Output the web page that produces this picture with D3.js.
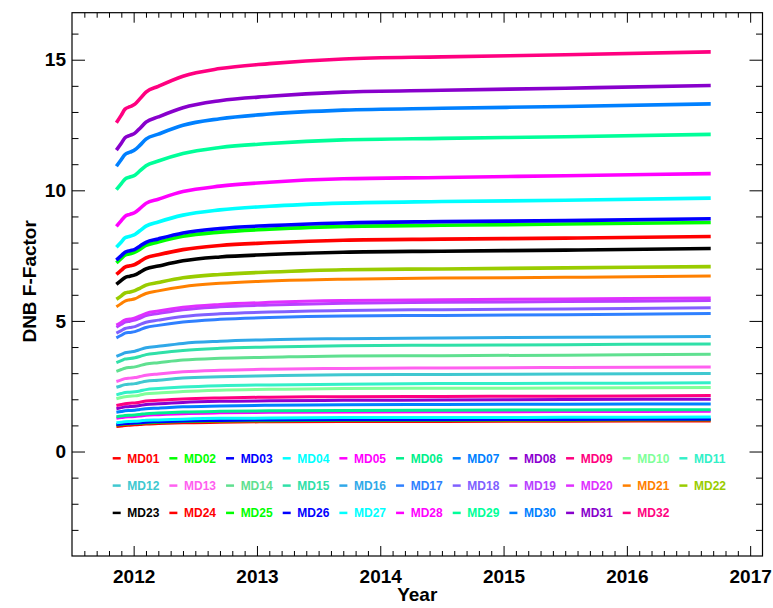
<!DOCTYPE html>
<html>
<head>
<meta charset="utf-8">
<script src="https://cdn.jsdelivr.net/npm/d3@7"></script>
<style>
  html, body { margin: 0; padding: 0; background: #fff; }
  svg { display: block; font-family: "Liberation Sans", Arial, Helvetica, sans-serif; }
  .tick text { font-weight: bold; font-size: 19px; fill: #000; }
  .tick line { stroke: #000; stroke-width: 1; }
</style>
</head>
<body>
<svg id="chart" width="773" height="608"></svg>
<script>
// Sample dates (decimal year) shared by all detector aggregation modes
const years = [2011.86, 2011.90, 2011.93, 2011.97, 2012.01, 2012.05, 2012.10, 2012.20,
               2012.40, 2012.70, 2013.10, 2013.70, 2014.50, 2015.50, 2016.68];

const modes = ["MD01","MD02","MD03","MD04","MD05","MD06","MD07","MD08","MD09","MD10","MD11",
               "MD12","MD13","MD14","MD15","MD16","MD17","MD18","MD19","MD20","MD21","MD22",
               "MD23","MD24","MD25","MD26","MD27","MD28","MD29","MD30","MD31","MD32"];

const modeColors = ["#ff0000","#00ff00","#0000ff","#00ffff","#ff00ff","#00f08c","#0080ff","#8c00d0",
                    "#ff0080","#80ff99","#33f0c8","#40c8d0","#ff60f0","#60e090","#30e0a8","#30a8e8",
                    "#3080ff","#8060ff","#b840ff","#e030ff","#ff8000","#99cc00","#000000","#ff0000",
                    "#00ff00","#0000ff","#00ffff","#ff00ff","#00ff99","#0080ff","#8800cc","#ff0080"];

// F-factor per mode at the sample dates
const MD01 = [0.96, 0.98, 1.00, 1.01, 1.02, 1.03, 1.05, 1.07, 1.10, 1.12, 1.14, 1.15, 1.15, 1.16, 1.17];
const MD02 = [1.01, 1.03, 1.05, 1.06, 1.07, 1.08, 1.10, 1.12, 1.15, 1.17, 1.18, 1.20, 1.20, 1.21, 1.22];
const MD03 = [1.03, 1.05, 1.07, 1.08, 1.09, 1.10, 1.12, 1.14, 1.17, 1.19, 1.21, 1.22, 1.22, 1.23, 1.24];
const MD04 = [1.10, 1.12, 1.14, 1.15, 1.16, 1.17, 1.20, 1.21, 1.24, 1.27, 1.28, 1.30, 1.30, 1.31, 1.32];
const MD05 = [1.27, 1.30, 1.32, 1.33, 1.34, 1.36, 1.39, 1.41, 1.45, 1.48, 1.50, 1.51, 1.52, 1.53, 1.54];
const MD06 = [1.33, 1.36, 1.38, 1.39, 1.40, 1.42, 1.45, 1.47, 1.51, 1.54, 1.56, 1.57, 1.58, 1.59, 1.60];
const MD07 = [1.50, 1.53, 1.56, 1.57, 1.58, 1.61, 1.64, 1.66, 1.71, 1.74, 1.77, 1.79, 1.80, 1.81, 1.82];
const MD08 = [1.64, 1.68, 1.71, 1.72, 1.73, 1.76, 1.80, 1.83, 1.88, 1.92, 1.94, 1.96, 1.97, 1.99, 2.00];
const MD09 = [1.76, 1.80, 1.83, 1.85, 1.86, 1.89, 1.93, 1.96, 2.01, 2.05, 2.08, 2.10, 2.11, 2.12, 2.14];
const MD10 = [2.02, 2.07, 2.10, 2.12, 2.13, 2.16, 2.21, 2.24, 2.30, 2.35, 2.38, 2.41, 2.42, 2.43, 2.45];
const MD11 = [2.17, 2.22, 2.26, 2.27, 2.29, 2.32, 2.37, 2.41, 2.47, 2.52, 2.55, 2.58, 2.60, 2.61, 2.63];
const MD12 = [2.46, 2.52, 2.56, 2.58, 2.60, 2.64, 2.69, 2.73, 2.81, 2.86, 2.90, 2.94, 2.95, 2.97, 2.99];
const MD13 = [2.68, 2.74, 2.79, 2.81, 2.83, 2.87, 2.92, 2.97, 3.05, 3.11, 3.15, 3.18, 3.20, 3.22, 3.24];
const MD14 = [3.07, 3.14, 3.19, 3.22, 3.24, 3.29, 3.35, 3.40, 3.50, 3.57, 3.61, 3.66, 3.67, 3.69, 3.72];
const MD15 = [3.40, 3.48, 3.54, 3.56, 3.59, 3.64, 3.71, 3.77, 3.87, 3.95, 4.00, 4.05, 4.07, 4.09, 4.12];
const MD16 = [3.64, 3.72, 3.78, 3.81, 3.84, 3.90, 3.97, 4.03, 4.14, 4.22, 4.28, 4.32, 4.35, 4.37, 4.40];
const MD17 = [4.35, 4.45, 4.53, 4.56, 4.59, 4.66, 4.75, 4.83, 4.96, 5.06, 5.13, 5.19, 5.21, 5.24, 5.28];
const MD18 = [4.53, 4.63, 4.71, 4.75, 4.78, 4.86, 4.95, 5.03, 5.17, 5.27, 5.34, 5.40, 5.43, 5.46, 5.50];
const MD19 = [4.76, 4.87, 4.95, 4.99, 5.03, 5.10, 5.20, 5.28, 5.43, 5.54, 5.61, 5.68, 5.71, 5.74, 5.78];
const MD20 = [4.84, 4.95, 5.04, 5.07, 5.11, 5.19, 5.29, 5.38, 5.52, 5.63, 5.71, 5.78, 5.81, 5.84, 5.88];
const MD21 = [5.54, 5.67, 5.76, 5.81, 5.85, 5.94, 6.05, 6.15, 6.31, 6.44, 6.53, 6.60, 6.64, 6.67, 6.72];
const MD22 = [5.83, 5.96, 6.07, 6.11, 6.16, 6.25, 6.37, 6.47, 6.65, 6.78, 6.87, 6.96, 6.99, 7.03, 7.08];
const MD23 = [6.40, 6.55, 6.66, 6.71, 6.76, 6.86, 6.99, 7.10, 7.30, 7.45, 7.54, 7.63, 7.67, 7.71, 7.77];
const MD24 = [6.78, 6.94, 7.06, 7.11, 7.16, 7.27, 7.41, 7.53, 7.73, 7.89, 7.99, 8.09, 8.13, 8.17, 8.23];
const MD25 = [7.22, 7.39, 7.52, 7.57, 7.63, 7.74, 7.89, 8.02, 8.24, 8.40, 8.51, 8.62, 8.66, 8.71, 8.77];
const MD26 = [7.33, 7.50, 7.63, 7.69, 7.74, 7.86, 8.01, 8.14, 8.37, 8.54, 8.65, 8.75, 8.80, 8.84, 8.91];
const MD27 = [7.82, 8.02, 8.18, 8.24, 8.31, 8.45, 8.63, 8.79, 9.05, 9.25, 9.39, 9.51, 9.57, 9.62, 9.70];
const MD28 = [8.62, 8.84, 9.00, 9.08, 9.15, 9.30, 9.50, 9.66, 9.95, 10.16, 10.31, 10.44, 10.49, 10.56, 10.64];
const MD29 = [10.03, 10.26, 10.43, 10.51, 10.58, 10.74, 10.94, 11.12, 11.41, 11.64, 11.79, 11.93, 11.99, 12.05, 12.14];
const MD30 = [10.92, 11.18, 11.37, 11.46, 11.55, 11.72, 11.96, 12.15, 12.49, 12.74, 12.92, 13.07, 13.14, 13.21, 13.31];
const MD31 = [11.54, 11.80, 12.01, 12.10, 12.19, 12.37, 12.61, 12.81, 13.16, 13.43, 13.60, 13.76, 13.83, 13.91, 14.01];
const MD32 = [12.59, 12.88, 13.11, 13.20, 13.30, 13.50, 13.76, 13.98, 14.37, 14.66, 14.85, 15.03, 15.11, 15.19, 15.30];

const seriesValues = [MD01, MD02, MD03, MD04, MD05, MD06, MD07, MD08, MD09, MD10, MD11,
                      MD12, MD13, MD14, MD15, MD16, MD17, MD18, MD19, MD20, MD21, MD22,
                      MD23, MD24, MD25, MD26, MD27, MD28, MD29, MD30, MD31, MD32];

const xMajorTicks = [2012, 2013, 2014, 2015, 2016, 2017];
const xTickLabels = ["2012", "2013", "2014", "2015", "2016", "2017"];
const yMajorTicks = [0, 5, 10, 15];
const yTickLabels = ["0", "5", "10", "15"];

const svg = d3.select("#chart");
const plotLeft = 72, plotRight = 762.5, plotTop = 12.7, plotBottom = 556;

const x = d3.scaleLinear().domain([2011.5, 2017.1]).range([plotLeft, plotRight]);
const y = d3.scaleLinear().domain([-4, 16.8]).range([plotBottom, plotTop]);

const xMinor = d3.range(2011.6, 2017.05, 0.1).map(v => +v.toFixed(1)).filter(v => Math.abs(v - Math.round(v)) > 1e-6);
const yMinor = d3.range(-3, 17, 1).filter(v => v % 5 !== 0);

function cleanAxis(g) { g.select(".domain").remove(); }

// Bottom axis: labelled majors, minor ticks pointing inward
svg.append("g").attr("transform", `translate(0,${plotBottom})`)
  .call(d3.axisBottom(x).tickValues(xMajorTicks).tickSize(-10).tickPadding(13.5)
        .tickFormat((d, i) => xTickLabels[i]))
  .call(cleanAxis);
svg.append("g").attr("transform", `translate(0,${plotBottom})`)
  .call(d3.axisBottom(x).tickValues(xMinor).tickSize(-5).tickFormat(""))
  .call(cleanAxis);
// Top axis: ticks only
svg.append("g").attr("transform", `translate(0,${plotTop})`)
  .call(d3.axisTop(x).tickValues(xMajorTicks).tickSize(-10).tickFormat(""))
  .call(cleanAxis);
svg.append("g").attr("transform", `translate(0,${plotTop})`)
  .call(d3.axisTop(x).tickValues(xMinor).tickSize(-5).tickFormat(""))
  .call(cleanAxis);
// Left axis
svg.append("g").attr("transform", `translate(${plotLeft},0)`)
  .call(d3.axisLeft(y).tickValues(yMajorTicks).tickSize(-13).tickPadding(6)
        .tickFormat((d, i) => yTickLabels[i]))
  .call(cleanAxis);
svg.append("g").attr("transform", `translate(${plotLeft},0)`)
  .call(d3.axisLeft(y).tickValues(yMinor).tickSize(-6.5).tickFormat(""))
  .call(cleanAxis);
// Right axis: ticks only
svg.append("g").attr("transform", `translate(${plotRight},0)`)
  .call(d3.axisRight(y).tickValues(yMajorTicks).tickSize(-13).tickFormat(""))
  .call(cleanAxis);
svg.append("g").attr("transform", `translate(${plotRight},0)`)
  .call(d3.axisRight(y).tickValues(yMinor).tickSize(-6.5).tickFormat(""))
  .call(cleanAxis);

// Plot frame
svg.append("rect")
  .attr("x", plotLeft).attr("y", plotTop)
  .attr("width", plotRight - plotLeft).attr("height", plotBottom - plotTop)
  .attr("fill", "none").attr("stroke", "#000").attr("stroke-width", 1.2);

// Axis titles
svg.append("text")
  .attr("x", (plotLeft + plotRight) / 2).attr("y", 601)
  .attr("text-anchor", "middle")
  .attr("font-size", 19).attr("font-weight", "bold")
  .text("Year");
svg.append("text")
  .attr("transform", `translate(36,${(plotTop + plotBottom) / 2 - 3}) rotate(-90)`)
  .attr("text-anchor", "middle")
  .attr("font-size", 19).attr("font-weight", "bold")
  .text("DNB F-Factor");

// F-factor trends
const line = d3.line()
  .x((d, i) => x(years[i]))
  .y(d => y(d))
  .curve(d3.curveMonotoneX);

svg.append("g").selectAll("path")
  .data(seriesValues)
  .join("path")
  .attr("d", d => line(d))
  .attr("fill", "none")
  .attr("stroke", (d, i) => modeColors[i])
  .attr("stroke-width", (d, i) => d[d.length - 1] > 7 ? 3.6 : 3)
  .attr("stroke-linejoin", "round");

// Legend: 11 columns x 3 rows
const legend = svg.append("g");
const cols = 11, colStep = 56.67, rowStep = 27.3, lx0 = 112.7, ly0 = 458.3;
modes.forEach((name, i) => {
  const cx = lx0 + (i % cols) * colStep;
  const cy = ly0 + Math.floor(i / cols) * rowStep;
  legend.append("line")
    .attr("x1", cx).attr("x2", cx + 8)
    .attr("y1", cy).attr("y2", cy)
    .attr("stroke", modeColors[i]).attr("stroke-width", 2.5);
  legend.append("text")
    .attr("x", cx + 14.6).attr("y", cy + 4.3)
    .attr("font-size", 12).attr("font-weight", "bold")
    .attr("fill", modeColors[i])
    .text(name);
});
</script>
</body>
</html>
